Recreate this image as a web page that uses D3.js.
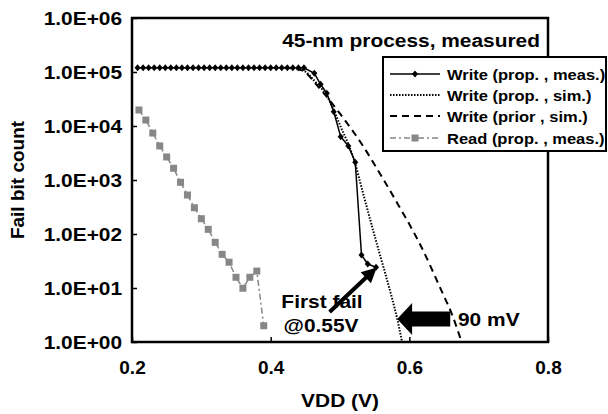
<!DOCTYPE html>
<html>
<head>
<meta charset="utf-8">
<script src="https://cdn.jsdelivr.net/npm/d3@7"></script>
<style>
  body { margin: 0; background: #fff; }
  text { font-family: Arial, "Liberation Sans", sans-serif; font-weight: bold; }
</style>
</head>
<body>
<div id="chart-area"></div>
<script>
// Data
var writeMeasV = [0.208, 0.216, 0.224, 0.232, 0.240, 0.248, 0.256, 0.264, 0.272, 0.280,
                  0.288, 0.296, 0.304, 0.312, 0.320, 0.328, 0.336, 0.344, 0.352, 0.360,
                  0.368, 0.376, 0.384, 0.392, 0.400, 0.408, 0.416, 0.424, 0.432, 0.440,
                  0.448, 0.463, 0.472, 0.481, 0.491, 0.501, 0.512, 0.522, 0.531, 0.540, 0.552];
var writeMeasCount = [120000, 120000, 120000, 120000, 120000, 120000, 120000, 120000, 120000, 120000,
                      120000, 120000, 120000, 120000, 120000, 120000, 120000, 120000, 120000, 120000,
                      120000, 120000, 120000, 120000, 120000, 120000, 120000, 120000, 120000, 120000,
                      120000, 94600, 59200, 40300, 18400, 6340, 4260, 2130, 40.8, 27.8, 24.2];

var writeSimV = [0.420, 0.436, 0.451, 0.462, 0.481, 0.500, 0.5216, 0.5332, 0.5476, 0.5577, 0.575, 0.5822, 0.5895];
var writeSimCount = [120000, 119000, 100000, 71000, 36000, 10400, 2065, 574, 119, 40.8, 6.5, 2.8, 1];

var priorSimV = [0.420, 0.4435, 0.4725, 0.5014, 0.5304, 0.5623, 0.5783, 0.6174, 0.6478, 0.6609, 0.6754];
var priorSimCount = [120000, 109000, 46400, 16000, 4840, 1040, 464, 57.4, 8.1, 3.4, 1];

var readV = [0.21, 0.22, 0.23, 0.24, 0.25, 0.26, 0.27, 0.28, 0.29, 0.30,
             0.31, 0.32, 0.33, 0.34, 0.35, 0.36, 0.37, 0.38, 0.39];
var readCount = [19800, 12900, 7400, 4270, 2670, 1650, 906, 527, 307, 192,
                 122, 70, 42, 30, 15.8, 9.9, 15.8, 20.6, 2.0];

var xTicks = [0.2, 0.4, 0.6, 0.8];
var xTickLabels = ["0.2", "0.4", "0.6", "0.8"];
var yTicks = [1, 10, 100, 1000, 10000, 100000, 1000000];
var yTickLabels = ["1.0E+00", "1.0E+01", "1.0E+02", "1.0E+03", "1.0E+04", "1.0E+05", "1.0E+06"];

var legendLabels = ["Write (prop. , meas.)", "Write (prop. , sim.)", "Write (prior , sim.)", "Read (prop. , meas.)"];

var W = 608, H = 414;
var pLeft = 132, pRight = 548, pTop = 18, pBottom = 342;
var grey = "#878787";
var sx = 1.1; // the original's lettering is a bit wide

var svg = d3.select("#chart-area")
    .append("svg")
        .attr("width", W)
        .attr("height", H);

var x = d3.scaleLinear().domain([0.2, 0.8]).range([pLeft, pRight]);
var y = d3.scaleLog().domain([1, 1e6]).range([pBottom, pTop]);

function zip(vs, cs) {
    return vs.map(function(v, i){ return { v: v, c: cs[i] }; });
}

// text helper, stretched horizontally
function label(parent, px, py, str, size, anchor) {
    return parent.append("text")
        .attr("transform", "translate(" + px + "," + py + ") scale(" + sx + ",1)")
        .attr("text-anchor", anchor || "start")
        .attr("font-size", size + "px")
        .text(str);
}

var line = d3.line()
    .x(function(d){ return x(d.v); })
    .y(function(d){ return y(d.c); });
var smooth = d3.line()
    .curve(d3.curveMonotoneX)
    .x(function(d){ return x(d.v); })
    .y(function(d){ return y(d.c); });

svg.append("clipPath").attr("id", "plot")
  .append("rect")
    .attr("x", pLeft).attr("y", pTop)
    .attr("width", pRight - pLeft).attr("height", pBottom - pTop);

var g = svg.append("g").attr("clip-path", "url(#plot)");

// Prior sim (dashed)
g.append("path")
    .attr("d", smooth(zip(priorSimV, priorSimCount)))
    .attr("fill", "none")
    .attr("stroke", "#000")
    .attr("stroke-width", 2)
    .attr("stroke-dasharray", "7,5");

// Prop sim (dotted)
g.append("path")
    .attr("d", smooth(zip(writeSimV, writeSimCount)))
    .attr("fill", "none")
    .attr("stroke", "#000")
    .attr("stroke-width", 2)
    .attr("stroke-dasharray", "1.5,1.5");

// Read meas
g.append("path")
    .attr("d", line(zip(readV, readCount)))
    .attr("fill", "none")
    .attr("stroke", grey)
    .attr("stroke-width", 1.5)
    .attr("stroke-dasharray", "6,3,2,3");

g.selectAll(".sq")
    .data(zip(readV, readCount))
    .enter().append("rect")
        .attr("class", "sq")
        .attr("x", function(d){ return x(d.v) - 3.5; })
        .attr("y", function(d){ return y(d.c) - 3.5; })
        .attr("width", 7)
        .attr("height", 7)
        .attr("fill", grey);

// Write meas
var diamond = "M0,-3.5L3,0L0,3.5L-3,0Z";
g.append("path")
    .attr("d", line(zip(writeMeasV, writeMeasCount)))
    .attr("fill", "none")
    .attr("stroke", "#000")
    .attr("stroke-width", 1.5);

g.selectAll(".dm")
    .data(zip(writeMeasV, writeMeasCount))
    .enter().append("path")
        .attr("class", "dm")
        .attr("d", diamond)
        .attr("transform", function(d){ return "translate(" + x(d.v) + "," + y(d.c) + ")"; })
        .attr("fill", "#000");

// Axes
var xAxis = d3.axisBottom(x)
    .tickValues(xTicks)
    .tickSizeInner(-5)
    .tickSizeOuter(0)
    .tickPadding(19)
    .tickFormat(function(d, i){ return xTickLabels[i]; });
var yAxis = d3.axisLeft(y)
    .tickValues(yTicks)
    .tickSizeInner(-5)
    .tickSizeOuter(0)
    .tickPadding(9)
    .tickFormat(function(d, i){ return yTickLabels[i]; });

var xg = svg.append("g")
    .attr("transform", "translate(0," + pBottom + ")")
    .call(xAxis);
var yg = svg.append("g")
    .attr("transform", "translate(" + pLeft + ",0)")
    .call(yAxis);

[xg, yg].forEach(function(a){
    a.select(".domain").remove();
    a.selectAll("line").attr("stroke", "#000").attr("stroke-width", 1.5);
    a.selectAll("text")
        .attr("font-size", "19px")
        .attr("font-family", "Arial, 'Liberation Sans', sans-serif")
        .attr("font-weight", "bold")
        .attr("fill", "#000");
});
yg.selectAll("text").attr("transform", "scale(" + sx + ",1)");

// Frame
svg.append("rect")
    .attr("x", pLeft).attr("y", pTop)
    .attr("width", pRight - pLeft).attr("height", pBottom - pTop)
    .attr("fill", "none")
    .attr("stroke", "#000")
    .attr("stroke-width", 2.5);

// Axis titles
label(svg, (pLeft + pRight) / 2, 407, "VDD (V)", 19, "middle");

svg.append("text")
    .attr("transform", "translate(24," + ((pTop + pBottom) / 2) + ") rotate(-90)")
    .attr("text-anchor", "middle")
    .attr("font-size", "19px")
    .text("Fail bit count");

// Title
label(svg, 540, 47, "45-nm process, measured", 19, "end");

// Legend
var lg = svg.append("g");
lg.append("rect")
    .attr("x", 383).attr("y", 57)
    .attr("width", 223).attr("height", 94)
    .attr("fill", "#fff")
    .attr("stroke", "#000")
    .attr("stroke-width", 2);

var rowY = [74, 95, 116, 138];
var styles = [
    { stroke: "#000", dash: null, w: 1.5 },
    { stroke: "#000", dash: "1.5,1.5", w: 2 },
    { stroke: "#000", dash: "7,5", w: 2 },
    { stroke: grey, dash: "6,3,2,3", w: 1.5 }
];
legendLabels.forEach(function(lab, i){
    var s = styles[i];
    lg.append("line")
        .attr("x1", 390).attr("x2", 440)
        .attr("y1", rowY[i]).attr("y2", rowY[i])
        .attr("stroke", s.stroke)
        .attr("stroke-width", s.w)
        .attr("stroke-dasharray", s.dash);
    if (i === 0) {
        lg.append("path").attr("d", diamond)
            .attr("transform", "translate(415," + rowY[i] + ")")
            .attr("fill", "#000");
    }
    if (i === 3) {
        lg.append("rect")
            .attr("x", 411.5).attr("y", rowY[i] - 3.5)
            .attr("width", 7).attr("height", 7)
            .attr("fill", grey);
    }
    label(lg, 447, rowY[i] + 5.5, lab, 15, "start");
});

// "First fail" annotation
var tip = [x(0.553), y(24)];
var tail = [x(0.485), y(3.6)];
var ang = Math.atan2(tip[1] - tail[1], tip[0] - tail[0]);
var headLen = 15, headHalf = 7.5, shaftHalf = 2;
function pt(dx, dy) {
    return [tip[0] + dx * Math.cos(ang) - dy * Math.sin(ang),
            tip[1] + dx * Math.sin(ang) + dy * Math.cos(ang)];
}
var len = Math.hypot(tip[0] - tail[0], tip[1] - tail[1]);
svg.append("path")
    .attr("d", d3.line()([pt(0, 0), pt(-headLen, headHalf), pt(-headLen, shaftHalf),
                          pt(-len, shaftHalf), pt(-len, -shaftHalf), pt(-headLen, -shaftHalf),
                          pt(-headLen, -headHalf)]) + "Z")
    .attr("fill", "#000");

label(svg, 322, 308, "First fail", 19, "middle");
label(svg, 321, 332, "@0.55V", 19, "middle");

// 90 mV block arrow
var bx0 = x(0.5825), bx1 = x(0.604), bx2 = x(0.659), by = y(2.67);
svg.append("path")
    .attr("d", d3.line()([[bx0, by], [bx1, by - 16], [bx1, by - 7.5], [bx2, by - 7.5],
                          [bx2, by + 7.5], [bx1, by + 7.5], [bx1, by + 16]]) + "Z")
    .attr("fill", "#000");
label(svg, 458, 326, "90 mV", 19, "start");
</script>
</body>
</html>
